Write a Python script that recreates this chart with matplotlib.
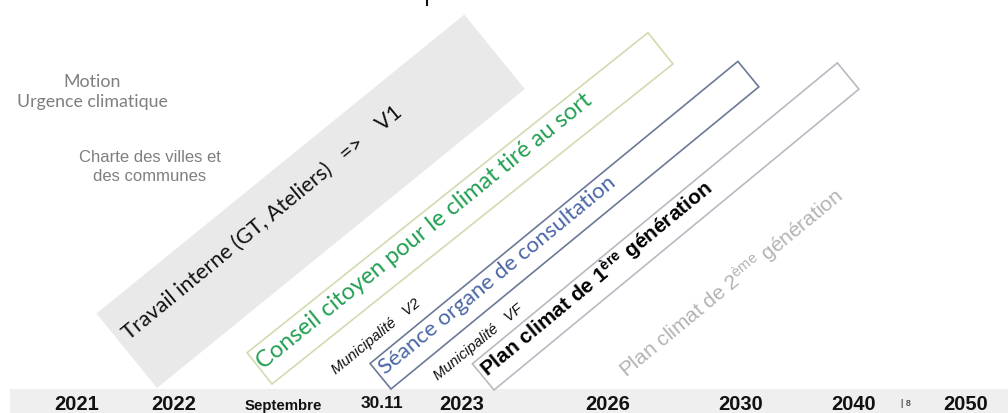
import numpy as np
import matplotlib
matplotlib.use("Agg")
import matplotlib.pyplot as plt
from matplotlib.patches import Polygon, Rectangle

plt.rcParams['mathtext.fontset'] = 'custom'
plt.rcParams['mathtext.rm'] = 'Liberation Sans'
plt.rcParams['mathtext.it'] = 'Liberation Sans:italic'
plt.rcParams['mathtext.bf'] = 'Liberation Sans:bold'

# timeline labels along the bottom band
timeline_labels = ['2021', '2022', 'Septembre', '30.11', '2023', '2026', '2030', '2040', '2050']
timeline_x = [77, 174, 283, 382, 462, 608, 741, 854, 966]

# the four slanted phases (boxes standing on the timeline)
phase_labels = ['Travail interne (GT, Ateliers)   =>    V1',
                'Conseil citoyen pour le climat tiré au sort',
                'Séance organe de consultation',
                'Plan climat de 1$^{\\mathbf{ère}}$ génération']
phase_bottom_x = [157, 272, 391, 494]
phase_bottom_y = [388, 384, 389, 390]
phase_length = [474, 513, 476, 473]
phase_width = [96, 40, 33, 34]
phase_angle = [39.1, 38.6, 39.4, 39.5]

# free text
left_notes = ['Motion\nUrgence climatique', 'Charte des villes et\ndes communes']
muni_labels = ['Municipalité   V2', 'Municipalité   VF']
next_plan = 'Plan climat de 2$^{\\mathrm{ème}}$ génération'
page_no = '| 8'

fig = plt.figure(figsize=(10.08, 4.13), dpi=100)
ax = fig.add_axes([0, 0, 1, 1])
ax.set_xlim(0, 1008)
ax.set_ylim(413, 0)
ax.axis('off')

# bottom band
ax.add_patch(Rectangle((10, 389), 998, 24, facecolor='#efefef', edgecolor='none', zorder=0))
for lab, x in zip(timeline_labels, timeline_x):
    if lab == 'Septembre':
        ax.text(x, 406, lab, ha='center', va='center', fontsize=10.8, fontweight='bold',
                family='Liberation Sans', color='#111111')
    elif lab == '30.11':
        ax.text(x, 404, lab, ha='center', va='center', fontsize=12.5, fontweight='bold',
                family='Liberation Sans', color='#111111')
    else:
        ax.text(x, 404, lab, ha='center', va='center', fontsize=14.5, fontweight='bold',
                family='Liberation Sans', color='#111111')
ax.text(906, 404, page_no, ha='center', va='center', fontsize=6.5, color='#555555',
        family='Liberation Sans', fontweight='bold')

# boxes
faces = ['#e9e9e9', 'none', 'none', 'none']
edges = ['none', '#d2dbb0', '#6c7898', '#b9b9c2']
for i in range(4):
    a = np.deg2rad(phase_angle[i])
    u = np.array([np.cos(a), -np.sin(a)])
    n = np.array([-np.sin(a), -np.cos(a)])
    b = np.array([phase_bottom_x[i], phase_bottom_y[i]])
    pts = [b, b + u * phase_length[i], b + u * phase_length[i] + n * phase_width[i], b + n * phase_width[i]]
    ax.add_patch(Polygon(pts, closed=True, facecolor=faces[i], edgecolor=edges[i], lw=1.2, zorder=1))

# texts in the boxes
ax.text(129, 341, phase_labels[0], rotation=39.5, rotation_mode='anchor', ha='left', va='baseline',
        fontsize=15.5, family='Lato', color='#111111', zorder=3)
ax.text(263, 370, phase_labels[1], rotation=39.0, rotation_mode='anchor', ha='left', va='baseline',
        fontsize=17, family='Lato', color='#23a053', zorder=3)
ax.text(385, 375, phase_labels[2], rotation=39.4, rotation_mode='anchor', ha='left', va='baseline',
        fontsize=16, family='Lato', color='#4a66a6', zorder=3)
ax.text(488, 378, phase_labels[3], rotation=39.5, rotation_mode='anchor', ha='left', va='baseline',
        fontsize=15, family='Liberation Sans', fontweight='bold', color='#000000', zorder=3)

# Municipalité steps
ax.text(336, 375, muni_labels[0], rotation=39.4, rotation_mode='anchor', ha='left', va='baseline',
        fontsize=10.8, family='Liberation Sans', style='italic', color='#111111', zorder=3)
ax.text(438, 381, muni_labels[1], rotation=39.4, rotation_mode='anchor', ha='left', va='baseline',
        fontsize=10.8, family='Liberation Sans', style='italic', color='#111111', zorder=3)

# next generation plan
ax.text(627, 379, next_plan, rotation=39.5, rotation_mode='anchor', ha='left', va='baseline',
        fontsize=15, family='Liberation Sans', color='#b3b3b3', zorder=3)

# left notes
ax.text(92, 92, left_notes[0], ha='center', va='center', fontsize=12.8, family='Lato',
        color='#7f7f7f', linespacing=1.35)
ax.text(150, 167, left_notes[1], ha='center', va='center', fontsize=12, family='Liberation Sans',
        color='#7f7f7f', linespacing=1.4)

# clipped title remnant
ax.plot([427, 427], [0, 5], color='#111111', lw=1.5)

fig.savefig('out.png', dpi=100)
